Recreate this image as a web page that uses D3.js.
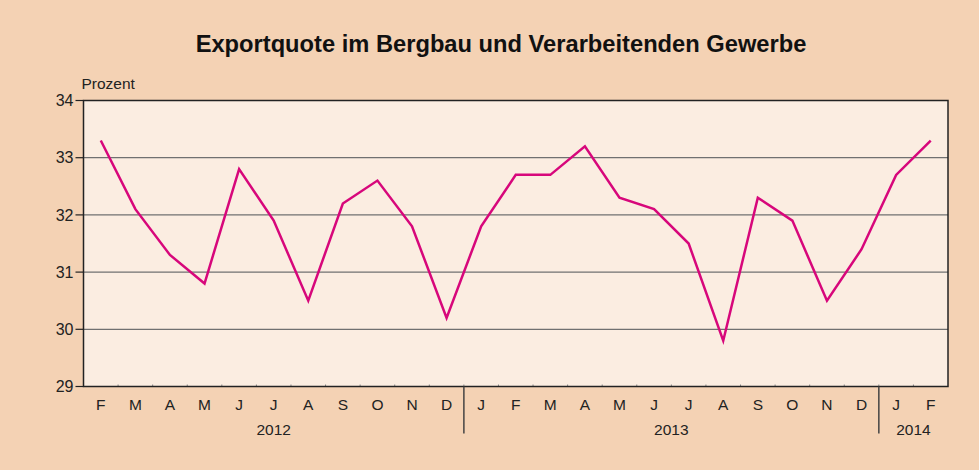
<!DOCTYPE html>
<html>
<head>
<meta charset="utf-8">
<script src="https://cdn.jsdelivr.net/npm/d3@7"></script>
<style>
  body { margin: 0; background: #f4d2b4; }
  svg { display: block; font-family: "Liberation Sans", Arial, sans-serif; }
</style>
</head>
<body>
<div class="viz"></div>
<script>
const months = ['F', 'M', 'A', 'M', 'J', 'J', 'A', 'S', 'O', 'N', 'D',
  'J', 'F', 'M', 'A', 'M', 'J', 'J', 'A', 'S', 'O', 'N', 'D',
  'J', 'F'];
const values = [33.3, 32.1, 31.3, 30.8, 32.8, 31.9, 30.5, 32.2, 32.6, 31.8, 30.2,
  31.8, 32.7, 32.7, 33.2, 32.3, 32.1, 31.5, 29.8, 32.3, 31.9, 30.5, 31.4,
  32.7, 33.3];
const years = [
  { label: '2012', start: 0, end: 11 },
  { label: '2013', start: 11, end: 23 },
  { label: '2014', start: 23, end: 25 }
];
const yTicks = [29, 30, 31, 32, 33, 34];

const W = 979, H = 470;
const margin = { top: 100.5, right: 31, bottom: 83.5, left: 83.5 };
const width = W - margin.left - margin.right,
  height = H - margin.top - margin.bottom;

const svg = d3.select('.viz').append('svg')
  .attr('width', W).attr('height', H);

svg.append('rect').attr('width', W).attr('height', H).attr('fill', '#f4d2b4');

svg.append('text')
  .attr('x', 501).attr('y', 52)
  .attr('text-anchor', 'middle')
  .attr('font-size', 23.7).attr('font-weight', 'bold')
  .attr('fill', '#111')
  .text('Exportquote im Bergbau und Verarbeitenden Gewerbe');

const g = svg.append('g')
  .attr('transform', 'translate(' + margin.left + ',' + margin.top + ')');

const idx = d3.range(months.length);
const x = d3.scaleBand().domain(idx).range([0, width]);
const y = d3.scaleLinear().domain([29, 34]).range([height, 0]);

g.append('rect').attr('width', width).attr('height', height).attr('fill', '#fbede1');

// gridlines
g.selectAll('.grid').data(yTicks.slice(1, -1)).join('line')
  .attr('x1', 0).attr('x2', width)
  .attr('y1', d => y(d)).attr('y2', d => y(d))
  .attr('stroke', '#707070').attr('stroke-width', 1.2);

// small ticks at month boundaries
g.selectAll('.mtick').data(d3.range(1, months.length)).join('line')
  .attr('x1', d => d * x.step()).attr('x2', d => d * x.step())
  .attr('y1', height).attr('y2', height - 2)
  .attr('stroke', '#888').attr('stroke-width', 1);

// y axis ticks + labels
g.selectAll('.ytick').data(yTicks).join('line')
  .attr('x1', -8).attr('x2', 0)
  .attr('y1', d => y(d)).attr('y2', d => y(d))
  .attr('stroke', '#222').attr('stroke-width', 1.2);
g.selectAll('.ylab').data(yTicks).join('text')
  .attr('x', -10).attr('y', d => y(d)).attr('dy', '0.35em')
  .attr('text-anchor', 'end').attr('font-size', 16).attr('fill', '#222')
  .text(d => d);

g.append('text').attr('x', -2).attr('y', -12)
  .attr('font-size', 15.5).attr('fill', '#222').text('Prozent');

// frame
g.append('rect').attr('width', width).attr('height', height)
  .attr('fill', 'none').attr('stroke', '#222').attr('stroke-width', 1.5);

// month labels
g.selectAll('.mlab').data(idx).join('text')
  .attr('x', d => x(d) + x.bandwidth() / 2).attr('y', height + 23)
  .attr('text-anchor', 'middle').attr('font-size', 15.5).attr('fill', '#222')
  .text(d => months[d]);

// year separators and labels
g.selectAll('.ysep').data(years.slice(1)).join('line')
  .attr('x1', d => d.start * x.step()).attr('x2', d => d.start * x.step())
  .attr('y1', height).attr('y2', height + 47)
  .attr('stroke', '#444').attr('stroke-width', 1.5);
g.selectAll('.yrlab').data(years).join('text')
  .attr('x', d => (d.start + d.end) / 2 * x.step()).attr('y', height + 48)
  .attr('text-anchor', 'middle').attr('font-size', 15.5).attr('fill', '#222')
  .text(d => d.label);

// line
const line = d3.line()
  .x((d, i) => x(i) + x.bandwidth() / 2)
  .y(d => y(d));
g.append('path').datum(values)
  .attr('fill', 'none').attr('stroke', '#d7077b').attr('stroke-width', 2.5)
  .attr('stroke-linejoin', 'miter')
  .attr('d', line);
</script>
</body>
</html>
